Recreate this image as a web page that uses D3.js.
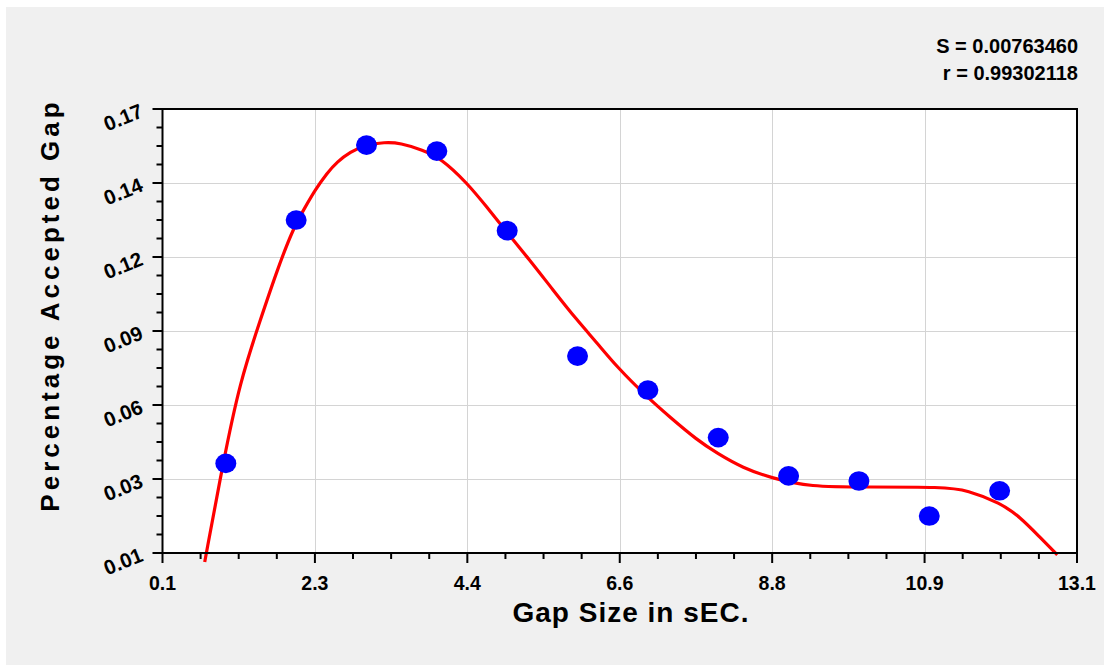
<!DOCTYPE html>
<html>
<head>
<meta charset="utf-8">
<script src="https://cdn.jsdelivr.net/npm/d3@7"></script>
<style>
  html, body { margin: 0; padding: 0; background: #fff; }
  svg { display: block; font-family: "Liberation Sans", Arial, sans-serif; }
</style>
</head>
<body>
<div id="chart"></div>
<script>
// observed gap acceptance
const gapSize = [1, 2, 3, 4, 5, 6, 7, 8, 9, 10, 11, 12];
const accepted = [0.0395, 0.1291, 0.1567, 0.1545, 0.1252, 0.0790, 0.0665, 0.0490, 0.0349, 0.0330, 0.0201, 0.0294];

// fitted curve
const fitX = [0.70, 0.96, 1.20, 1.49, 1.73, 1.96, 2.13, 2.27, 2.44, 2.58, 2.77, 2.98, 3.26, 3.48, 3.80, 4.05,
  4.43, 4.71, 4.97, 5.32, 5.65, 5.99, 6.28, 6.56, 6.99, 7.31, 7.70, 7.98, 8.35, 8.76, 9.30, 10.12, 11.20,
  11.54, 12.01, 12.29, 12.57, 12.82];
const fitY = [0.0032, 0.0396, 0.0695, 0.0923, 0.1107, 0.1262, 0.1339, 0.1402, 0.1464, 0.1505, 0.1542, 0.1567,
  0.1578, 0.1575, 0.1549, 0.1520, 0.1428, 0.1339, 0.1254, 0.1144, 0.1034, 0.0923, 0.0838, 0.0750, 0.0639,
  0.0566, 0.0481, 0.0433, 0.0378, 0.0341, 0.0308, 0.0308, 0.0308, 0.0297, 0.0249, 0.0198, 0.0124, 0.0058];

const xTickLabels = ["0.1", "2.3", "4.4", "6.6", "8.8", "10.9", "13.1"];
const yTickLabels = ["0.01", "0.03", "0.06", "0.09", "0.12", "0.14", "0.17"];
const statLines = ["S = 0.00763460", "r = 0.99302118"];

const W = 1104, H = 665;
const plot = { left: 162.5, right: 1077, top: 109, bottom: 553 };

const svg = d3.select("#chart").append("svg")
  .attr("width", W).attr("height", H);

svg.append("rect")
  .attr("x", 6).attr("y", 7)
  .attr("width", W - 6).attr("height", H - 7)
  .attr("fill", "#f0f0f0");

const x = d3.scaleLinear().domain([0.1, 13.1]).range([plot.left, plot.right]);
const y = d3.scaleLinear().domain([0.0065, 0.17]).range([plot.bottom, plot.top]);

// evenly spaced major ticks, 3 minor ticks between each
const evenTicks = (scale, n) => {
  const [a, b] = scale.domain();
  return d3.range(n + 1).map(i => a + i * (b - a) / n);
};
const xMajor = evenTicks(x, 6);
const yMajor = evenTicks(y, 6);
const xMinor = evenTicks(x, 24).filter((d, i) => i % 4 !== 0);
const yMinor = evenTicks(y, 24).filter((d, i) => i % 4 !== 0);

svg.append("rect")
  .attr("x", plot.left).attr("y", plot.top)
  .attr("width", plot.right - plot.left).attr("height", plot.bottom - plot.top)
  .attr("fill", "#fff");

// grid
const grid = svg.append("g").attr("stroke", "#d4d4d4").attr("stroke-width", 1);
grid.selectAll(".gx").data(xMajor.slice(1, -1)).enter().append("line")
  .attr("x1", d => Math.round(x(d)) + 0.5).attr("x2", d => Math.round(x(d)) + 0.5)
  .attr("y1", plot.top).attr("y2", plot.bottom);
grid.selectAll(".gy").data(yMajor.slice(1, -1)).enter().append("line")
  .attr("y1", d => Math.round(y(d)) + 0.5).attr("y2", d => Math.round(y(d)) + 0.5)
  .attr("x1", plot.left).attr("x2", plot.right);

// ticks
const ticks = svg.append("g").attr("stroke", "#000").attr("stroke-width", 2);
ticks.selectAll(".xt").data(xMajor).enter().append("line")
  .attr("x1", d => x(d)).attr("x2", d => x(d))
  .attr("y1", plot.bottom).attr("y2", plot.bottom + 10);
ticks.selectAll(".xm").data(xMinor).enter().append("line")
  .attr("x1", d => x(d)).attr("x2", d => x(d))
  .attr("y1", plot.bottom).attr("y2", plot.bottom + 6);
ticks.selectAll(".yt").data(yMajor).enter().append("line")
  .attr("y1", d => y(d)).attr("y2", d => y(d))
  .attr("x1", plot.left - 10).attr("x2", plot.left);
ticks.selectAll(".ym").data(yMinor).enter().append("line")
  .attr("y1", d => y(d)).attr("y2", d => y(d))
  .attr("x1", plot.left - 6).attr("x2", plot.left);

// fitted curve
const line = d3.line()
  .x((d, i) => x(fitX[i]))
  .y(d => y(d))
  .curve(d3.curveBasis);
svg.append("path")
  .attr("d", line(fitY))
  .attr("fill", "none")
  .attr("stroke", "#ff0000")
  .attr("stroke-width", 3.2)
  .attr("stroke-linejoin", "round");

// data points
svg.append("g").selectAll("ellipse").data(accepted).enter().append("ellipse")
  .attr("cx", (d, i) => x(gapSize[i]))
  .attr("cy", d => y(d))
  .attr("rx", 10.5).attr("ry", 9.8)
  .attr("fill", "#0000ff");

// frame
svg.append("rect")
  .attr("x", plot.left).attr("y", plot.top)
  .attr("width", plot.right - plot.left).attr("height", plot.bottom - plot.top)
  .attr("fill", "none").attr("stroke", "#000").attr("stroke-width", 2);

// tick labels
svg.append("g").selectAll("text").data(xMajor).enter().append("text")
  .attr("x", d => x(d)).attr("y", 590)
  .attr("text-anchor", "middle")
  .attr("font-size", 19.5).attr("font-weight", "bold")
  .text((d, i) => xTickLabels[i]);

svg.append("g").selectAll("text").data(yMajor).enter().append("text")
  .attr("transform", d => `translate(123,${y(d) + 8}) rotate(-22)`)
  .attr("text-anchor", "middle")
  .attr("dominant-baseline", "central")
  .attr("font-size", 20.5).attr("font-weight", "bold")
  .text((d, i) => yTickLabels[i]);

// axis titles
svg.append("text")
  .attr("x", 631).attr("y", 622)
  .attr("text-anchor", "middle")
  .attr("font-size", 28).attr("font-weight", "bold")
  .attr("letter-spacing", 1)
  .text("Gap Size in sEC.");

svg.append("text")
  .attr("transform", "translate(59,305) rotate(-90)")
  .attr("text-anchor", "middle")
  .attr("font-size", 26).attr("font-weight", "bold")
  .attr("letter-spacing", 4)
  .text("Percentage Accepted Gap");

// fit statistics
svg.append("g").selectAll("text").data(statLines).enter().append("text")
  .attr("x", 1078).attr("y", (d, i) => 53 + i * 27)
  .attr("text-anchor", "end")
  .attr("font-size", 20).attr("font-weight", "bold")
  .text(d => d);
</script>
</body>
</html>
